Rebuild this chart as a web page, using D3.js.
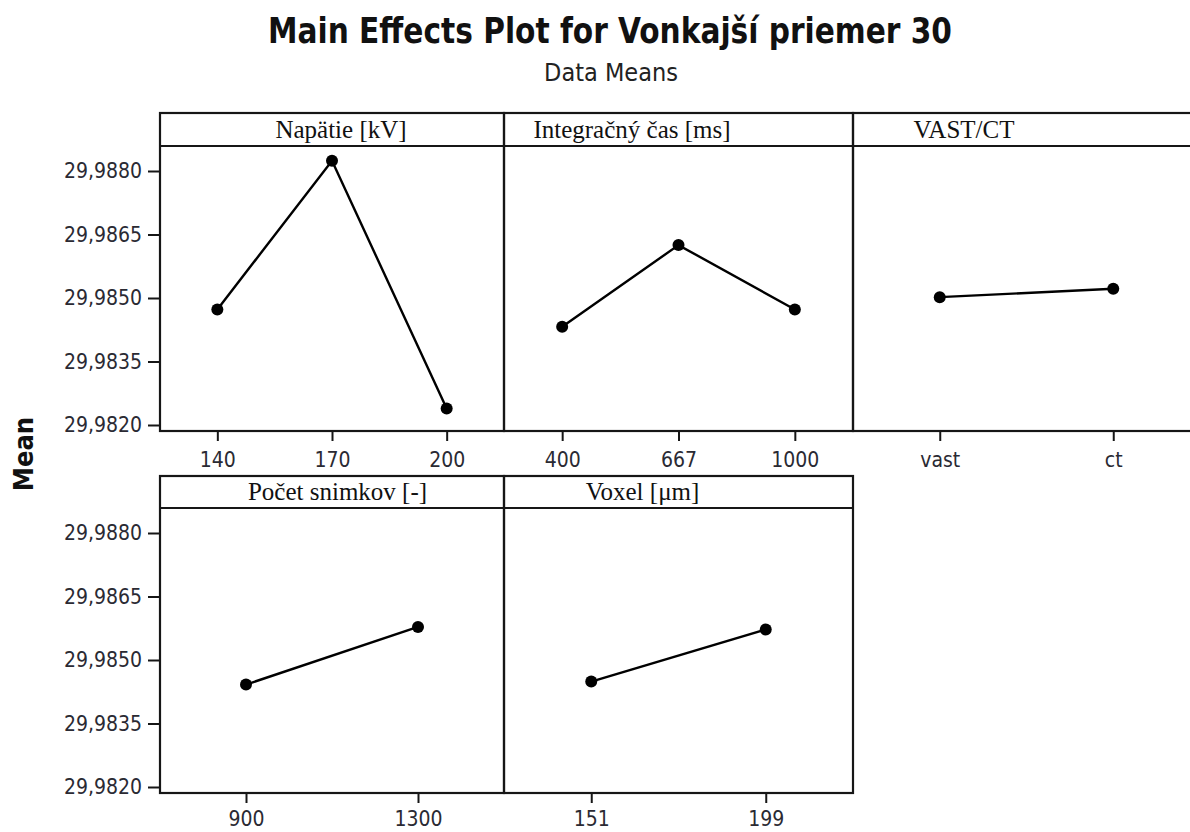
<!DOCTYPE html>
<html>
<head>
<meta charset="utf-8">
<script src="https://cdn.jsdelivr.net/npm/d3@7"></script>
<style>
  body { margin: 0; background: #fff; }
  svg { display: block; }
</style>
</head>
<body>
<svg id="chart" width="1190" height="832"></svg>
<script>
// ---- data: factor levels and mean response at each level ----
const factorNames = ["Napätie [kV]", "Integračný čas [ms]", "VAST/CT", "Počet snimkov [-]", "Voxel [μm]"];

const napatieLevels = ["140", "170", "200"];
const napatieMeans = [29.98473, 29.98824, 29.98239];

const casLevels = ["400", "667", "1000"];
const casMeans = [29.98432, 29.98625, 29.98473];

const vastLevels = ["vast", "ct"];
const vastMeans = [29.98502, 29.98522];

const snimkyLevels = ["900", "1300"];
const snimkyMeans = [29.98442, 29.98578];

const voxelLevels = ["151", "199"];
const voxelMeans = [29.98449, 29.98572];

const yTicks = [29.9820, 29.9835, 29.9850, 29.9865, 29.9880];

const titleText = "Main Effects Plot for Vonkajší priemer 30";
const subtitleText = "Data Means";
const yLabelText = "Mean";

// ---- layout ----
const W = 1190, H = 832;
const rows = [
  { top: 113, headerBottom: 146, bottom: 431, labelPad: 8 },
  { top: 476, headerBottom: 508, bottom: 793, labelPad: 5 }
];
// panel boxes: row index, left, right, header label centre (offset from left)
const panels = [
  { row: 0, x0: 160, x1: 504,  labelDx: 181,   levels: napatieLevels, means: napatieMeans },
  { row: 0, x0: 504, x1: 853,  labelDx: 128,   levels: casLevels,     means: casMeans },
  { row: 0, x0: 853, x1: 1200, labelDx: 111,   levels: vastLevels,    means: vastMeans },
  { row: 1, x0: 160, x1: 504,  labelDx: 177.5, levels: snimkyLevels,  means: snimkyMeans },
  { row: 1, x0: 504, x1: 853,  labelDx: 138.5, levels: voxelLevels,   means: voxelMeans }
];
panels.forEach((p, i) => p.name = factorNames[i]);

const sansFont = "'DejaVu Sans Condensed', 'DejaVu Sans', sans-serif";
const serifFont = "'Liberation Serif', 'Times New Roman', serif";
const ink = "#161616";

const svg = d3.select("#chart");
svg.append("rect").attr("width", W).attr("height", H).attr("fill", "#fff");

const commaLocale = d3.formatLocale({ decimal: ",", thousands: " ", grouping: [3], currency: ["", ""] });
const fmtY = commaLocale.format(".4f");

// ---- titles ----
svg.append("text")
  .attr("x", 610).attr("y", 43)
  .attr("text-anchor", "middle")
  .attr("font-family", sansFont).attr("font-weight", "bold")
  .attr("font-size", 35)
  .attr("textLength", 684).attr("lengthAdjust", "spacingAndGlyphs")
  .attr("fill", "#111")
  .text(titleText);

svg.append("text")
  .attr("x", 611).attr("y", 81)
  .attr("text-anchor", "middle")
  .attr("font-family", sansFont)
  .attr("font-size", 25)
  .attr("fill", "#222")
  .text(subtitleText);

svg.append("text")
  .attr("transform", "translate(33,454) rotate(-90)")
  .attr("text-anchor", "middle")
  .attr("font-family", sansFont).attr("font-weight", "bold")
  .attr("font-size", 27)
  .attr("fill", "#111")
  .text(yLabelText);

// ---- panels ----
panels.forEach((p) => {
  const r = rows[p.row];
  const g = svg.append("g");

  const x = d3.scalePoint().domain(p.levels).range([p.x0, p.x1]).padding(0.5);
  const y = d3.scaleLinear()
    .domain([yTicks[0], yTicks[yTicks.length - 1]])
    .range([r.bottom - 6, r.headerBottom + 25]);

  // panel frame with header strip
  g.append("rect")
    .attr("x", p.x0).attr("y", r.top)
    .attr("width", p.x1 - p.x0).attr("height", r.bottom - r.top)
    .attr("fill", "none").attr("stroke", ink).attr("stroke-width", 2.2);
  g.append("line")
    .attr("x1", p.x0).attr("x2", p.x1)
    .attr("y1", r.headerBottom).attr("y2", r.headerBottom)
    .attr("stroke", ink).attr("stroke-width", 2.2);
  g.append("text")
    .attr("x", p.x0 + p.labelDx).attr("y", r.headerBottom - 8)
    .attr("text-anchor", "middle")
    .attr("font-family", serifFont).attr("font-size", 25)
    .attr("fill", "#111")
    .text(p.name);

  // x axis
  const xAxis = g.append("g")
    .attr("transform", `translate(0,${r.bottom})`)
    .call(d3.axisBottom(x).tickSize(10).tickPadding(r.labelPad));
  xAxis.select(".domain").remove();
  xAxis.selectAll(".tick line").attr("stroke", ink).attr("stroke-width", 2);
  xAxis.selectAll(".tick text")
    .attr("font-family", sansFont).attr("font-size", 21).attr("fill", "#2a2a33")
    .attr("dy", "0.85em");

  // y axis on the leftmost panel of each row
  if (p.x0 === 160) {
    const yAxis = g.append("g")
      .attr("transform", `translate(${p.x0},0)`)
      .call(d3.axisLeft(y).tickValues(yTicks).tickFormat(fmtY).tickSize(12).tickPadding(6));
    yAxis.select(".domain").remove();
    yAxis.selectAll(".tick line").attr("stroke", ink).attr("stroke-width", 2);
    yAxis.selectAll(".tick text")
      .attr("font-family", sansFont).attr("font-size", 21).attr("fill", "#2a2a33");
  }

  // mean line and markers
  const pts = p.levels.map((lv, k) => ({ lv, v: p.means[k] }));
  g.append("path")
    .datum(pts)
    .attr("fill", "none").attr("stroke", "#000").attr("stroke-width", 2.4)
    .attr("d", d3.line().x(d => x(d.lv)).y(d => y(d.v)));
  g.selectAll("circle.pt")
    .data(pts).join("circle")
    .attr("class", "pt")
    .attr("cx", d => x(d.lv)).attr("cy", d => y(d.v))
    .attr("r", 6).attr("fill", "#000");
});
</script>
</body>
</html>
